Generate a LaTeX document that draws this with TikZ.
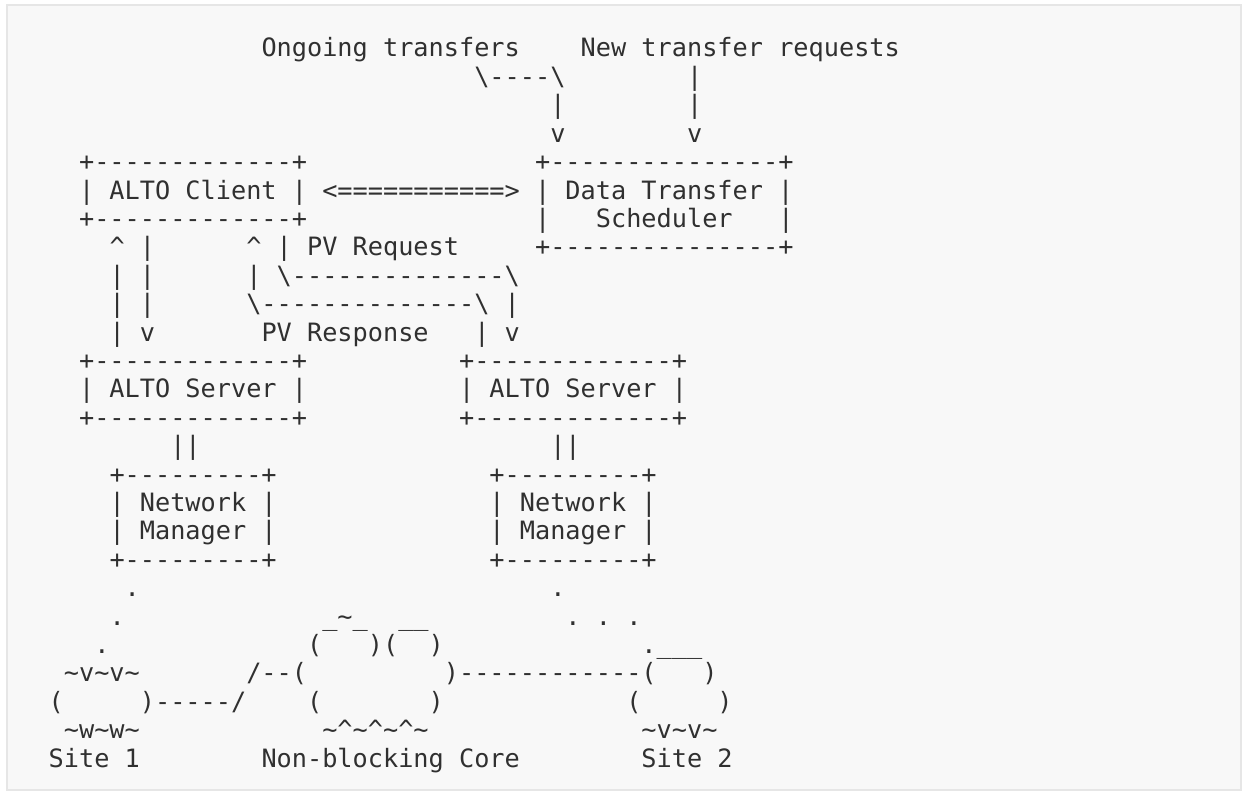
\documentclass[tikz,border=0pt]{standalone}
\usepackage{fontspec}
\setmonofont{DejaVu Sans Mono}
\definecolor{ink}{HTML}{303030}
\definecolor{panel}{HTML}{F8F8F8}
\definecolor{rim}{HTML}{E6E6E6}
\newcommand\asc{\ttfamily\fontsize{25.247pt}{28.4pt}\selectfont}
\newcommand\gp[1]{\hskip#1\fontcharwd\font`0\relax}
\newcommand\Bsl{\textbackslash}
\newcommand\Car{\textasciicircum}
\newcommand\Til{\textasciitilde}
\newcommand\Und{\textunderscore}
\begin{document}
\begin{tikzpicture}[x=1pt,y=-1pt,
  ln/.style={anchor=base west,inner sep=0pt,outer sep=0pt,text=ink,font=\asc}]
\useasboundingbox (0,0) rectangle (1242,792);
\fill[white] (0,0) rectangle (1242,792);
\filldraw[fill=panel,draw=rim,line width=1.6pt] (7,5) rectangle (1241,790);
\def\X{48.7}
\node[ln] (l1)  at (\X, 57.0) {\gp{14}Ongoing transfers\gp{4}New transfer requests};
\node[ln] (l2)  at (\X, 85.4) {\gp{28}\Bsl----\Bsl\gp{8}|};
\node[ln] (l3)  at (\X,113.8) {\gp{33}|\gp{8}|};
\node[ln] (l4)  at (\X,142.2) {\gp{33}v\gp{8}v};
\node[ln] (l5)  at (\X,170.6) {\gp{2}+-------------+\gp{15}+---------------+};
\node[ln] (l6)  at (\X,199.0) {\gp{2}| ALTO Client | <===========> | Data Transfer |};
\node[ln] (l7)  at (\X,227.4) {\gp{2}+-------------+\gp{15}|\gp{3}Scheduler\gp{3}|};
\node[ln] (l8)  at (\X,255.8) {\gp{4}\Car{} |\gp{6}\Car{} | PV Request\gp{5}+---------------+};
\node[ln] (l9)  at (\X,284.2) {\gp{4}| |\gp{6}| \Bsl--------------\Bsl{}};
\node[ln] (l10) at (\X,312.6) {\gp{4}| |\gp{6}\Bsl--------------\Bsl{} |};
\node[ln] (l11) at (\X,341.0) {\gp{4}| v\gp{7}PV Response\gp{3}| v};
\node[ln] (l12) at (\X,369.4) {\gp{2}+-------------+\gp{10}+-------------+};
\node[ln] (l13) at (\X,397.8) {\gp{2}| ALTO Server |\gp{10}| ALTO Server |};
\node[ln] (l14) at (\X,426.2) {\gp{2}+-------------+\gp{10}+-------------+};
\node[ln] (l15) at (\X,454.6) {\gp{8}||\gp{23}||};
\node[ln] (l16) at (\X,483.0) {\gp{4}+---------+\gp{14}+---------+};
\node[ln] (l17) at (\X,511.4) {\gp{4}| Network |\gp{14}| Network |};
\node[ln] (l18) at (\X,539.8) {\gp{4}| Manager |\gp{14}| Manager |};
\node[ln] (l19) at (\X,568.2) {\gp{4}+---------+\gp{14}+---------+};
\node[ln] (l20) at (\X,596.6) {\gp{5}.\gp{27}.};
\node[ln] (l21) at (\X,625.0) {\gp{4}.\gp{13}\Und\Til\Und\gp{2}\Und\Und\gp{9}. . .};
\node[ln] (l22) at (\X,653.4) {\gp{3}.\gp{13}(\gp{3})(\gp{2})\gp{13}.\Und\Und\Und};
\node[ln] (l23) at (\X,681.8) {\gp{1}\Til{}v\Til{}v\Til\gp{7}/--(\gp{9})------------(\gp{3})};
\node[ln] (l24) at (\X,710.2) {(\gp{5})-----/\gp{4}(\gp{7})\gp{12}(\gp{5})};
\node[ln] (l25) at (\X,738.6) {\gp{1}\Til{}w\Til{}w\Til\gp{12}\Til\Car\Til\Car\Til\Car\Til\gp{14}\Til{}v\Til{}v\Til};
\node[ln] (l26) at (\X,767.0) {Site 1\gp{8}Non-blocking Core\gp{8}Site 2};
\end{tikzpicture}
\end{document}
